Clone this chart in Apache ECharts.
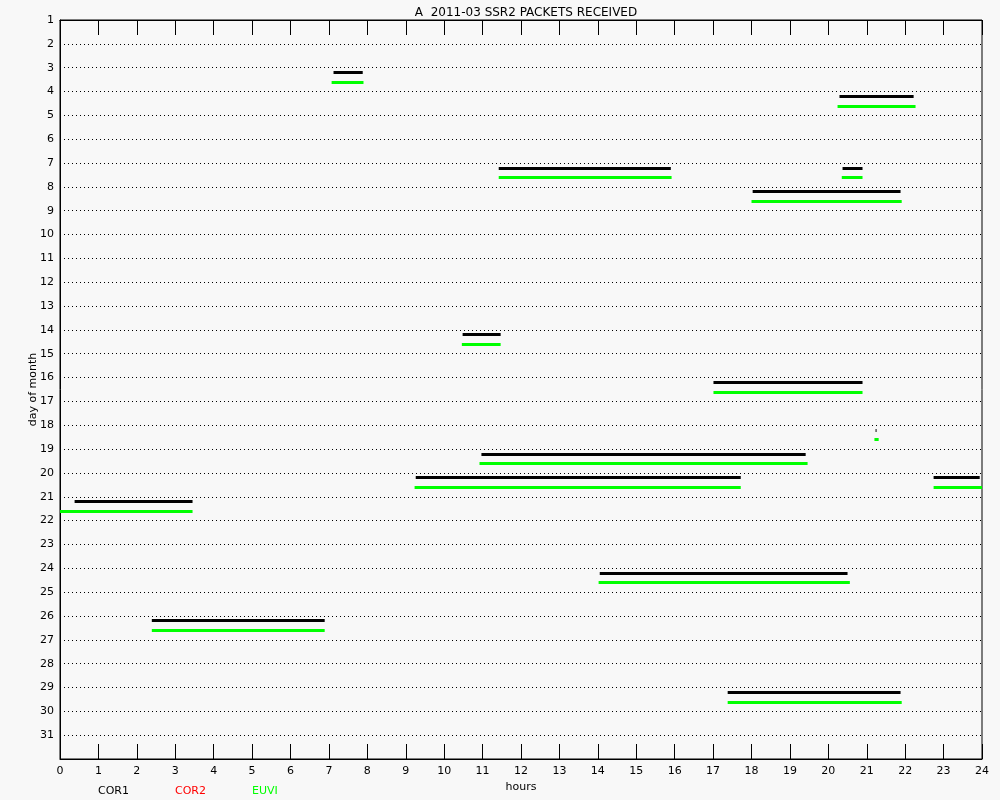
<!DOCTYPE html>
<html>
<head>
<meta charset="utf-8">
<script src="https://cdn.jsdelivr.net/npm/echarts@6/dist/echarts.min.js"></script>
<style>html,body{margin:0;padding:0;background:#f8f8f8;}#chart{width:1000px;height:800px;}</style>
</head>
<body>
<div id="chart"></div>
<script>
// Hour ticks and day ticks
const hourTicks = [0,1,2,3,4,5,6,7,8,9,10,11,12,13,14,15,16,17,18,19,20,21,22,23,24];
const dayTicks = [1,2,3,4,5,6,7,8,9,10,11,12,13,14,15,16,17,18,19,20,21,22,23,24,25,26,27,28,29,30,31];

// COR1 (black) packet intervals: day, start hour, end hour
const cor1Days  = [3, 4, 7, 7, 8, 14, 16, 18, 19, 20, 20, 21, 24, 26, 29];
const cor1Start = [7.12, 20.29, 11.42, 20.37, 18.03, 10.48, 17.01, 21.23, 10.97, 9.26, 22.74, 0.38, 14.05, 2.39, 17.38];
const cor1End   = [7.88, 22.22, 15.90, 20.89, 21.88, 11.47, 20.89, 21.255, 19.41, 17.72, 23.94, 3.45, 20.50, 6.89, 21.88];

// COR2 (red): no packets this month
const cor2Days  = [];
const cor2Start = [];
const cor2End   = [];

// EUVI (green)
const euviDays  = [3, 4, 7, 7, 8, 14, 16, 18, 19, 20, 20, 21, 24, 26, 29];
const euviStart = [7.07, 20.24, 11.42, 20.35, 18.00, 10.46, 17.01, 21.20, 10.92, 9.23, 22.74, 0.00, 14.02, 2.39, 17.38];
const euviEnd   = [7.90, 22.27, 15.92, 20.89, 21.91, 11.47, 20.89, 21.31, 19.46, 17.72, 24.00, 3.45, 20.56, 6.89, 21.91];

function segs(days, s, e, off) {
  return days.map((d, i) => ({ coords: [[s[i], d + off], [e[i], d + off]] }));
}

const chart = echarts.init(document.getElementById('chart'));
const font = 'DejaVu Sans';
chart.setOption({
  backgroundColor: '#f8f8f8',
  animation: false,
  title: {
    text: 'A  2011-03 SSR2 PACKETS RECEIVED',
    left: 521, top: 2, textAlign: 'center',
    textStyle: { fontFamily: font, fontSize: 12, fontWeight: 'normal', color: '#000' }
  },
  grid: { left: 60, right: 18, top: 20, bottom: 41, show: true, borderColor: '#000', borderWidth: 1, backgroundColor: 'transparent' },
  xAxis: [{
    type: 'value', min: 0, max: 24, interval: 1, position: 'bottom',
    name: 'hours', nameLocation: 'middle', nameGap: 21,
    nameTextStyle: { fontFamily: font, fontSize: 11, color: '#000' },
    axisLine: { show: true, lineStyle: { color: '#000', width: 1 } },
    axisTick: { show: true, inside: true, length: 15, lineStyle: { color: '#000' } },
    axisLabel: { fontFamily: font, fontSize: 11, color: '#000', margin: 7 },
    splitLine: { show: false }
  }, {
    type: 'value', min: 0, max: 24, interval: 1, position: 'top',
    axisLine: { show: true, lineStyle: { color: '#000', width: 1 } },
    axisTick: { show: true, inside: true, length: 15, lineStyle: { color: '#000' } },
    axisLabel: { show: false },
    splitLine: { show: false }
  }],
  yAxis: {
    type: 'value', min: 1, max: 32, interval: 1, inverse: true,
    name: 'day of month', nameLocation: 'middle', nameGap: 21, nameMoveOverlap: false,
    nameTextStyle: { fontFamily: font, fontSize: 11, color: '#000' },
    axisLine: { show: true, lineStyle: { color: '#000', width: 1 } },
    axisTick: { show: false },
    axisLabel: { fontFamily: font, fontSize: 11, color: '#000', margin: 6,
      formatter: v => (dayTicks.indexOf(v) >= 0 ? String(v) : '') },
    splitLine: { show: true, lineStyle: { color: '#000', type: [1, 3], width: 1 } }
  },
  graphic: [
    { type: 'text', left: 98, top: 786, style: { text: 'COR1', fill: '#000', font: '11px "DejaVu Sans"' } },
    { type: 'text', left: 175, top: 786, style: { text: 'COR2', fill: '#ff0000', font: '11px "DejaVu Sans"' } },
    { type: 'text', left: 252, top: 786, style: { text: 'EUVI', fill: '#00ff00', font: '11px "DejaVu Sans"' } }
  ],
  series: [
    { name: 'COR1', type: 'lines', coordinateSystem: 'cartesian2d', xAxisIndex: 0,
      lineStyle: { color: '#000', width: 3, opacity: 1, cap: 'butt' },
      data: segs(cor1Days, cor1Start, cor1End, 0.2) },
    { name: 'COR2', type: 'lines', coordinateSystem: 'cartesian2d', xAxisIndex: 0,
      lineStyle: { color: '#ff0000', width: 3, opacity: 1, cap: 'butt' },
      data: segs(cor2Days, cor2Start, cor2End, 0.4) },
    { name: 'EUVI', type: 'lines', coordinateSystem: 'cartesian2d', xAxisIndex: 0,
      lineStyle: { color: '#00ff00', width: 3, opacity: 1, cap: 'butt' },
      data: segs(euviDays, euviStart, euviEnd, 0.6) }
  ]
});
</script>
</body>
</html>
